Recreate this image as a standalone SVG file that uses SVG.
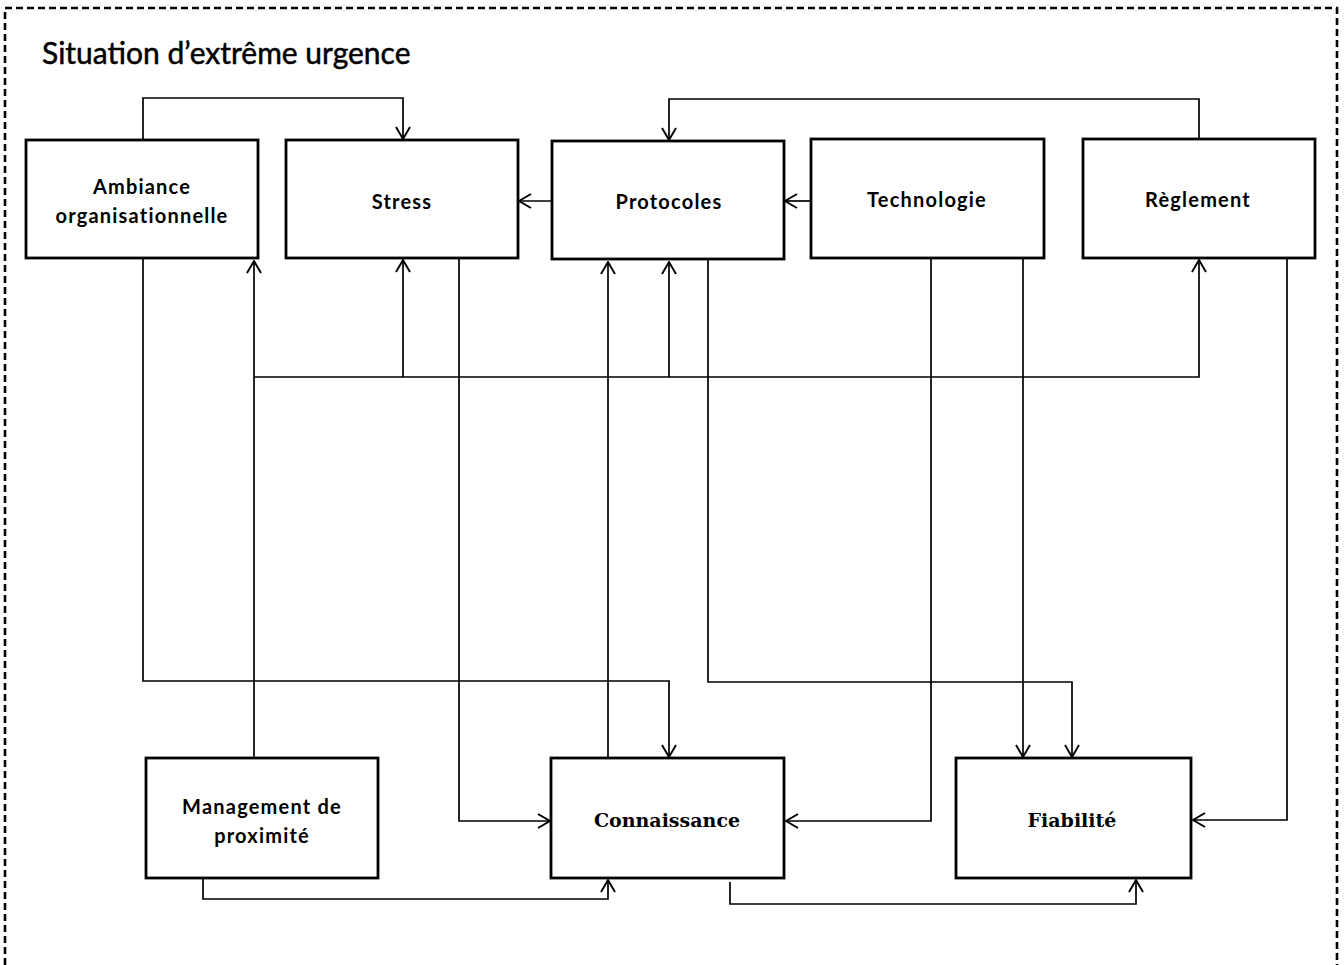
<svg xmlns="http://www.w3.org/2000/svg" width="1344" height="965" viewBox="0 0 1344 965">
<defs>
<marker id="arr" markerUnits="userSpaceOnUse" viewBox="0 0 14 16" refX="13" refY="8" markerWidth="14" markerHeight="16" orient="auto">
<path d="M1,1 L13,8 L1,15" fill="none" stroke="#000" stroke-width="1.9"/>
</marker>
<style>
.box{fill:#fff;stroke:#000;stroke-width:2.8}
.lbl{font-family:Lato,"Open Sans",sans-serif;font-weight:bold;font-size:20px;letter-spacing:1.2px;text-anchor:middle;fill:#000}
.ser{font-family:"DejaVu Serif","Liberation Serif",serif;font-weight:bold;font-size:19px;text-anchor:middle;fill:#000}
.c{fill:none;stroke:#000;stroke-width:1.7}
.a{marker-end:url(#arr)}
</style>
</defs>
<rect width="1344" height="965" fill="#fff"/>
<rect x="5" y="8" width="1332" height="1000" fill="none" stroke="#000" stroke-width="2.6" stroke-dasharray="7 4"/>
<text x="42" y="64" font-family="Lato,'Open Sans',sans-serif" font-size="30" fill="#000" stroke="#000" stroke-width="0.5">Situation d’extrême urgence</text>

<g id="connectors">
<path class="c a" d="M143,140 V98 H403 V139"/>
<path class="c a" d="M1199,139 V99 H669 V140"/>
<path class="c a" d="M552,201 H519"/>
<path class="c a" d="M811,201 H785"/>
<path class="c a" d="M254,758 V261"/>
<path class="c a" d="M254,377 H1199 V260"/>
<path class="c a" d="M403,377 V260"/>
<path class="c a" d="M669,377 V262"/>
<path class="c a" d="M143,258 V681 H669 V757"/>
<path class="c a" d="M608,758 V262"/>
<path class="c a" d="M459,258 V821 H550"/>
<path class="c a" d="M931,258 V821 H786"/>
<path class="c a" d="M1023,258 V757"/>
<path class="c a" d="M708,260 V682 H1072 V757"/>
<path class="c a" d="M1287,258 V820 H1193"/>
<path class="c a" d="M203,878 V899 H608 V880"/>
<path class="c a" d="M730,882 V904 H1136 V880"/>
</g>

<g id="ambiance">
<rect class="box" x="26" y="140" width="232" height="118"/>
<text class="lbl" x="142" y="194">Ambiance</text>
<text class="lbl" x="142" y="223">organisationnelle</text>
</g>
<g id="stress">
<rect class="box" x="286" y="140" width="232" height="118"/>
<text class="lbl" x="402" y="209">Stress</text>
</g>
<g id="protocoles">
<rect class="box" x="552" y="141" width="232" height="118"/>
<text class="lbl" x="669" y="209">Protocoles</text>
</g>
<g id="technologie">
<rect class="box" x="811" y="139" width="233" height="119"/>
<text class="lbl" x="927" y="207">Technologie</text>
</g>
<g id="reglement">
<rect class="box" x="1083" y="139" width="232" height="119"/>
<text class="lbl" x="1198" y="207">Règlement</text>
</g>
<g id="management">
<rect class="box" x="146" y="758" width="232" height="120"/>
<text class="lbl" x="262" y="814">Management de</text>
<text class="lbl" x="262" y="843">proximité</text>
</g>
<g id="connaissance">
<rect class="box" x="551" y="758" width="233" height="120"/>
<text class="ser" x="667" y="827">Connaissance</text>
</g>
<g id="fiabilite">
<rect class="box" x="956" y="758" width="235" height="120"/>
<text class="ser" x="1072" y="827">Fiabilité</text>
</g>
</svg>
